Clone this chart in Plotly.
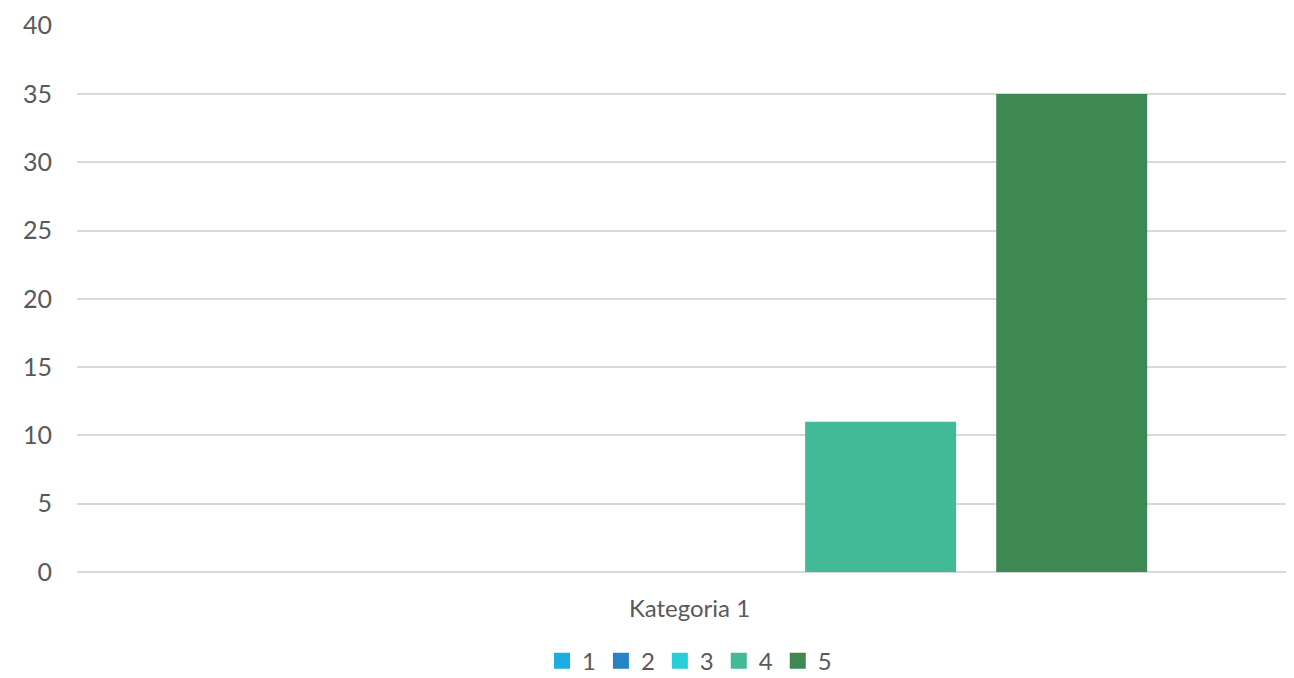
import plotly.graph_objects as go

categories = ["Kategoria 1"]
series_names = ["1", "2", "3", "4", "5"]
series_values = [[0], [0], [0], [11], [35]]
colors = ["#1CADE4", "#2683C6", "#27CED7", "#42BA97", "#3E8853"]

fig = go.Figure()
for name, vals, col in zip(series_names, series_values, colors):
    fig.add_trace(go.Bar(x=categories, y=vals, name=name, marker_color=col,
                         marker_line_width=0, showlegend=False))
# legend entries with larger square swatches
for name, col in zip(series_names, colors):
    fig.add_trace(go.Scatter(x=[None], y=[None], mode="markers", name=name,
                             marker=dict(symbol="square", size=16, color=col)))

# page body has an 8px margin, so the figure is offset to fit the window
fig.update_layout(
    width=1294, height=670,
    margin=dict(l=69, r=0, t=17, b=106, autoexpand=False),
    plot_bgcolor="white", paper_bgcolor="white",
    font=dict(family="Lato, Open Sans, sans-serif", size=25, color="#595959"),
    barmode="group", bargap=0.22, bargroupgap=0.21,
    showlegend=True,
    legend=dict(orientation="h", x=0.5, xanchor="center", y=-0.122, yanchor="top",
                font=dict(size=24), itemwidth=30, traceorder="normal"),
    xaxis=dict(showgrid=False, ticks="", tickfont=dict(size=24), automargin=False,
               ticklabelstandoff=20),
    yaxis=dict(range=[0, 40.05], tickvals=[0, 5, 10, 15, 20, 25, 30, 35, 40],
               showgrid=True, gridcolor="#D9D9D9", gridwidth=2,
               zeroline=True, zerolinecolor="#D9D9D9", zerolinewidth=2, ticks="",
               ticklabelstandoff=24, automargin=False),
)

fig.write_html("out.html")
